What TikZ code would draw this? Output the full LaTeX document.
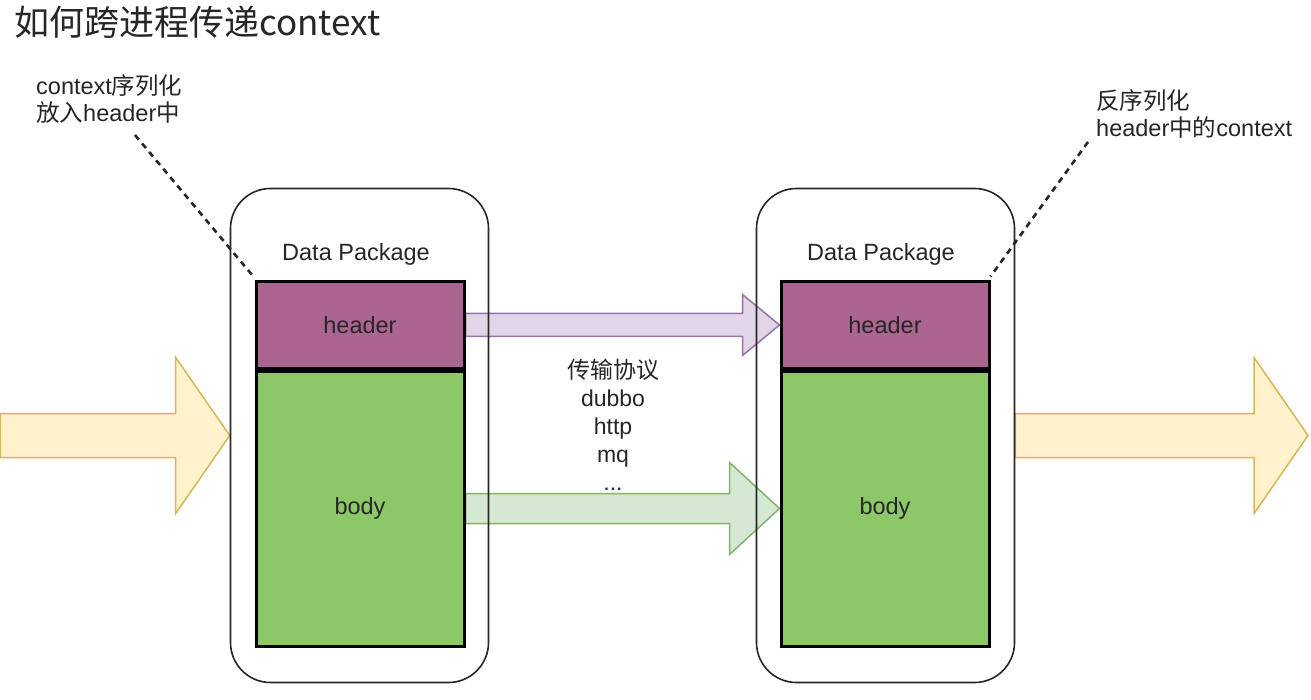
\documentclass[tikz,border=0pt]{standalone}
\usepackage{fontspec}
\setmainfont{Liberation Sans}
\newfontfamily\cjk{Noto Sans CJK SC}
\usepackage{xcolor}
\usetikzlibrary{calc,backgrounds}

\definecolor{hdrfill}{HTML}{AB6591}
\definecolor{bodyfill}{HTML}{8DC868}
\definecolor{yelfill}{HTML}{FFF2CC}
\definecolor{yelline}{HTML}{D6B656}
\definecolor{purfill}{HTML}{E1D5E7}
\definecolor{purline}{HTML}{9673A6}
\definecolor{grnfill}{HTML}{D5E8D4}
\definecolor{grnline}{HTML}{82B366}
\definecolor{txt}{HTML}{262626}

\tikzset{
  pkg/.style={draw=black!85, line width=1.6pt, rounded corners=40pt,
    minimum width=258pt, minimum height=494pt, inner sep=0pt},
  part/.style={draw=black, line width=3pt, minimum width=208pt, inner sep=0pt,
    text=txt, font=\fontsize{23.5}{28}\selectfont},
  label/.style={text=txt, font=\fontsize{23.5}{28}\selectfont, inner sep=0pt},
  note/.style={text=txt, align=left, anchor=north west, inner sep=0pt,
    font=\fontsize{23.5}{27}\selectfont},
  noteline/.style={draw=black!85, line width=2.6pt, dash pattern=on 6pt off 5pt},
  yelarrow/.style={fill=yelfill, draw=yelline, line width=1.5pt, line join=miter},
  purarrow/.style={fill=purfill, draw=purline, line width=1.5pt, line join=miter},
  grnarrow/.style={fill=grnfill, draw=grnline, line width=1.5pt, line join=miter}
}

% block arrow: style, from, to, shaft half, head half, head length
\newcommand{\blockarrow}[6]{%
  \draw[#1] ($(#2)+(0,#4)$) -- ($(#3)+(-#6,#4)$) -- ($(#3)+(-#6,#5)$) -- (#3)
    -- ($(#3)+(-#6,-#5)$) -- ($(#3)+(-#6,-#4)$) -- ($(#2)+(0,-#4)$) -- cycle;}

\begin{document}
\begin{tikzpicture}[x=1pt,y=-1pt]
  \useasboundingbox (0,0) rectangle (1311,700);

  \node[anchor=west, text=txt, inner sep=0pt, font=\cjk\fontsize{35}{40}\selectfont] (title) at (14,22) {如何跨进程传递context};

  % sender
  \node[pkg] (pkgL) at (359.5,435.5) {};
  \node[part, fill=hdrfill, minimum height=86pt] (hdrL) at (360,325) {header};
  \node[part, fill=bodyfill, minimum height=275pt, anchor=north] (bodyL) at (hdrL.south) {body};
  \node[label] (dpL) at ($(hdrL.north)+(-4,-26)$) {Data Package};

  % receiver
  \node[pkg] (pkgR) at (885.5,435.5) {};
  \node[part, fill=hdrfill, minimum height=86pt] (hdrR) at (885,325) {header};
  \node[part, fill=bodyfill, minimum height=275pt, anchor=north] (bodyR) at (hdrR.south) {body};
  \node[label] (dpR) at ($(hdrR.north)+(-4,-26)$) {Data Package};

  \node[label, align=center, font=\fontsize{23}{28}\selectfont] (proto) at (613,425)
    {{\cjk 传输协议}\\dubbo\\http\\mq\\...};

  \node[note] (noteL) at (36,74) {context{\cjk 序列化}\\{\cjk 放入}header{\cjk 中}};
  \node[note] (noteR) at (1096,89) {{\cjk 反序列化}\\header{\cjk 中的}context};

  \coordinate (inL) at (0,435.5);
  \coordinate (outR) at (1308,435.5);
  \coordinate (tipL) at (135,135);
  \coordinate (tipR) at (1088,142);

  \begin{scope}[on background layer]
    \fill[white] (0,0) rectangle (1311,700);
    \blockarrow{yelarrow}{inL}{pkgL.west}{22}{78}{54}
    \blockarrow{yelarrow}{pkgR.east}{outR}{22}{78}{54}
    \blockarrow{purarrow}{hdrL.east}{hdrR.west}{11.5}{30.5}{37}
    \blockarrow{grnarrow}{bodyL.east}{bodyR.west}{15}{46}{50}
  \end{scope}

  \draw[noteline] (tipL) -- ($(hdrL.north west)+(-2,-5)$);
  \draw[noteline] (tipR) -- ($(hdrR.north east)+(0,-4)$);
\end{tikzpicture}
\end{document}
